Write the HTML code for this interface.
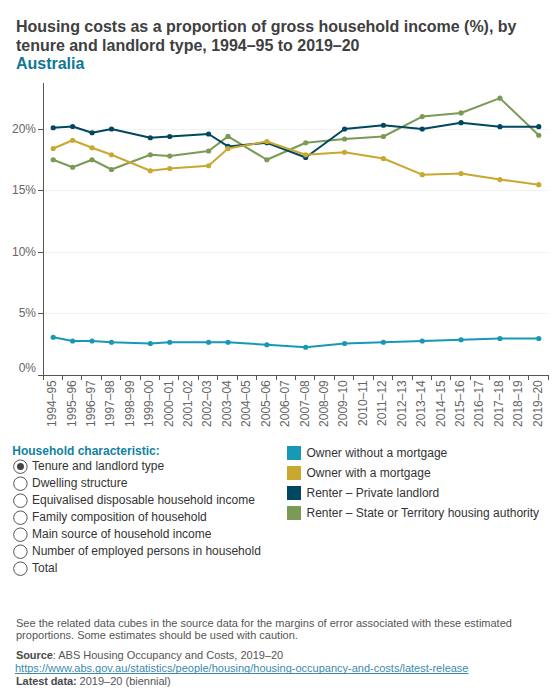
<!DOCTYPE html>
<html><head><meta charset="utf-8">
<style>
html,body{margin:0;padding:0;background:#fff;}
body{width:560px;height:700px;position:relative;overflow:hidden;font-family:"Liberation Sans",sans-serif;}
.t1{position:absolute;left:16px;font-weight:bold;font-size:16px;line-height:18px;color:#404040;white-space:nowrap;letter-spacing:-0.015px;}
.t1.au{color:#0f7896;}
svg{position:absolute;left:0;top:0;}
.yl{font-size:12px;fill:#666;font-family:"Liberation Sans",sans-serif;}
.xl{font-size:12px;fill:#666;font-family:"Liberation Sans",sans-serif;}
.hc{position:absolute;left:12.3px;top:444px;font-weight:bold;font-size:12px;line-height:14px;color:#1281a3;}
.rad{position:absolute;left:13px;height:17px;width:270px;font-size:12px;line-height:17px;color:#333;}
.rad .circ{position:absolute;left:0;top:3px;width:12px;height:12px;border:1px solid #666;border-radius:50%;box-sizing:content-box;}
.rad.on .circ::after{content:"";position:absolute;left:3px;top:3px;width:6px;height:6px;border-radius:50%;background:#444;}
.rad .rt{position:absolute;left:19px;top:0;white-space:nowrap;}
.lg{position:absolute;left:287px;height:14px;width:270px;font-size:12px;color:#333;}
.lg .sq{position:absolute;left:0;top:0;width:14px;height:14px;}
.lg .lt{position:absolute;left:19.5px;top:-1px;line-height:16px;white-space:nowrap;}
.note{position:absolute;left:16px;top:617px;font-size:11px;line-height:12px;color:#555;width:540px;}
.src{position:absolute;left:16px;top:649px;font-size:11px;line-height:13px;color:#555;}
.src b{color:#4a4a4a;letter-spacing:-0.1px;}
.src a{color:#3a8bb0;text-decoration:underline;text-decoration-skip-ink:none;position:relative;left:-1px;}
</style></head><body>
<div class="t1" style="top:18px">Housing costs as a proportion of gross household income (%), by</div><div class="t1" style="top:37px">tenure and landlord type, 1994–95 to 2019–20</div><div class="t1 au" style="top:55px">Australia</div>
<svg width="560" height="700" viewBox="0 0 560 700">
<line x1="44" y1="129.5" x2="548.5" y2="129.5" stroke="#f2f2f2" stroke-width="1"/>
<line x1="44" y1="190.5" x2="548.5" y2="190.5" stroke="#f2f2f2" stroke-width="1"/>
<line x1="44" y1="252.5" x2="548.5" y2="252.5" stroke="#f2f2f2" stroke-width="1"/>
<line x1="44" y1="313.5" x2="548.5" y2="313.5" stroke="#f2f2f2" stroke-width="1"/>
<text x="36" y="132.5" text-anchor="end" class="yl">20%</text>
<line x1="38" y1="129.5" x2="43" y2="129.5" stroke="#555" stroke-width="1"/>
<text x="36" y="193.5" text-anchor="end" class="yl">15%</text>
<line x1="38" y1="190.5" x2="43" y2="190.5" stroke="#555" stroke-width="1"/>
<text x="36" y="255.5" text-anchor="end" class="yl">10%</text>
<line x1="38" y1="252.5" x2="43" y2="252.5" stroke="#555" stroke-width="1"/>
<text x="36" y="316.5" text-anchor="end" class="yl">5%</text>
<line x1="38" y1="313.5" x2="43" y2="313.5" stroke="#555" stroke-width="1"/>
<text x="36" y="372" text-anchor="end" class="yl">0%</text>
<line x1="43.5" y1="83" x2="43.5" y2="375" stroke="#555" stroke-width="1"/>
<line x1="38" y1="375.5" x2="549" y2="375.5" stroke="#555" stroke-width="1"/>
<line x1="43.5" y1="375" x2="43.5" y2="380" stroke="#555" stroke-width="1"/>
<line x1="62.5" y1="375" x2="62.5" y2="380" stroke="#555" stroke-width="1"/>
<line x1="81.5" y1="375" x2="81.5" y2="380" stroke="#555" stroke-width="1"/>
<line x1="101.5" y1="375" x2="101.5" y2="380" stroke="#555" stroke-width="1"/>
<line x1="120.5" y1="375" x2="120.5" y2="380" stroke="#555" stroke-width="1"/>
<line x1="140.5" y1="375" x2="140.5" y2="380" stroke="#555" stroke-width="1"/>
<line x1="159.5" y1="375" x2="159.5" y2="380" stroke="#555" stroke-width="1"/>
<line x1="178.5" y1="375" x2="178.5" y2="380" stroke="#555" stroke-width="1"/>
<line x1="198.5" y1="375" x2="198.5" y2="380" stroke="#555" stroke-width="1"/>
<line x1="217.5" y1="375" x2="217.5" y2="380" stroke="#555" stroke-width="1"/>
<line x1="237.5" y1="375" x2="237.5" y2="380" stroke="#555" stroke-width="1"/>
<line x1="256.5" y1="375" x2="256.5" y2="380" stroke="#555" stroke-width="1"/>
<line x1="276.5" y1="375" x2="276.5" y2="380" stroke="#555" stroke-width="1"/>
<line x1="295.5" y1="375" x2="295.5" y2="380" stroke="#555" stroke-width="1"/>
<line x1="314.5" y1="375" x2="314.5" y2="380" stroke="#555" stroke-width="1"/>
<line x1="334.5" y1="375" x2="334.5" y2="380" stroke="#555" stroke-width="1"/>
<line x1="353.5" y1="375" x2="353.5" y2="380" stroke="#555" stroke-width="1"/>
<line x1="373.5" y1="375" x2="373.5" y2="380" stroke="#555" stroke-width="1"/>
<line x1="392.5" y1="375" x2="392.5" y2="380" stroke="#555" stroke-width="1"/>
<line x1="412.5" y1="375" x2="412.5" y2="380" stroke="#555" stroke-width="1"/>
<line x1="431.5" y1="375" x2="431.5" y2="380" stroke="#555" stroke-width="1"/>
<line x1="450.5" y1="375" x2="450.5" y2="380" stroke="#555" stroke-width="1"/>
<line x1="470.5" y1="375" x2="470.5" y2="380" stroke="#555" stroke-width="1"/>
<line x1="489.5" y1="375" x2="489.5" y2="380" stroke="#555" stroke-width="1"/>
<line x1="509.5" y1="375" x2="509.5" y2="380" stroke="#555" stroke-width="1"/>
<line x1="528.5" y1="375" x2="528.5" y2="380" stroke="#555" stroke-width="1"/>
<line x1="548.5" y1="375" x2="548.5" y2="380" stroke="#555" stroke-width="1"/>
<text transform="translate(56.11,380.2) rotate(-90)" text-anchor="end" class="xl">1994–95</text>
<text transform="translate(75.53,380.2) rotate(-90)" text-anchor="end" class="xl">1995–96</text>
<text transform="translate(94.96,380.2) rotate(-90)" text-anchor="end" class="xl">1996–97</text>
<text transform="translate(114.38,380.2) rotate(-90)" text-anchor="end" class="xl">1997–98</text>
<text transform="translate(133.80,380.2) rotate(-90)" text-anchor="end" class="xl">1998–99</text>
<text transform="translate(153.22,380.2) rotate(-90)" text-anchor="end" class="xl">1999–00</text>
<text transform="translate(172.65,380.2) rotate(-90)" text-anchor="end" class="xl">2000–01</text>
<text transform="translate(192.07,380.2) rotate(-90)" text-anchor="end" class="xl">2001–02</text>
<text transform="translate(211.49,380.2) rotate(-90)" text-anchor="end" class="xl">2002–03</text>
<text transform="translate(230.92,380.2) rotate(-90)" text-anchor="end" class="xl">2003–04</text>
<text transform="translate(250.34,380.2) rotate(-90)" text-anchor="end" class="xl">2004–05</text>
<text transform="translate(269.76,380.2) rotate(-90)" text-anchor="end" class="xl">2005–06</text>
<text transform="translate(289.19,380.2) rotate(-90)" text-anchor="end" class="xl">2006–07</text>
<text transform="translate(308.61,380.2) rotate(-90)" text-anchor="end" class="xl">2007–08</text>
<text transform="translate(328.03,380.2) rotate(-90)" text-anchor="end" class="xl">2008–09</text>
<text transform="translate(347.45,380.2) rotate(-90)" text-anchor="end" class="xl">2009–10</text>
<text transform="translate(366.88,380.2) rotate(-90)" text-anchor="end" class="xl">2010–11</text>
<text transform="translate(386.30,380.2) rotate(-90)" text-anchor="end" class="xl">2011–12</text>
<text transform="translate(405.72,380.2) rotate(-90)" text-anchor="end" class="xl">2012–13</text>
<text transform="translate(425.15,380.2) rotate(-90)" text-anchor="end" class="xl">2013–14</text>
<text transform="translate(444.57,380.2) rotate(-90)" text-anchor="end" class="xl">2014–15</text>
<text transform="translate(463.99,380.2) rotate(-90)" text-anchor="end" class="xl">2015–16</text>
<text transform="translate(483.42,380.2) rotate(-90)" text-anchor="end" class="xl">2016–17</text>
<text transform="translate(502.84,380.2) rotate(-90)" text-anchor="end" class="xl">2017–18</text>
<text transform="translate(522.26,380.2) rotate(-90)" text-anchor="end" class="xl">2018–19</text>
<text transform="translate(541.68,380.2) rotate(-90)" text-anchor="end" class="xl">2019–20</text>
<polyline points="53.21,159.75 72.63,167.25 92.06,159.75 111.48,169.5 150.32,154.75 169.75,156.0 208.59,151.0 228.02,136.4 266.86,159.75 305.71,142.75 344.55,139.0 383.40,136.5 422.25,116.55 461.09,112.95 499.94,98.15 538.78,135.25" fill="none" stroke="#7a9a55" stroke-width="2" stroke-linejoin="round" stroke-linecap="round"/>
<circle cx="53.21" cy="159.75" r="2.6" fill="#7a9a55"/>
<circle cx="72.63" cy="167.25" r="2.6" fill="#7a9a55"/>
<circle cx="92.06" cy="159.75" r="2.6" fill="#7a9a55"/>
<circle cx="111.48" cy="169.5" r="2.6" fill="#7a9a55"/>
<circle cx="150.32" cy="154.75" r="2.6" fill="#7a9a55"/>
<circle cx="169.75" cy="156.0" r="2.6" fill="#7a9a55"/>
<circle cx="208.59" cy="151.0" r="2.6" fill="#7a9a55"/>
<circle cx="228.02" cy="136.4" r="2.6" fill="#7a9a55"/>
<circle cx="266.86" cy="159.75" r="2.6" fill="#7a9a55"/>
<circle cx="305.71" cy="142.75" r="2.6" fill="#7a9a55"/>
<circle cx="344.55" cy="139.0" r="2.6" fill="#7a9a55"/>
<circle cx="383.40" cy="136.5" r="2.6" fill="#7a9a55"/>
<circle cx="422.25" cy="116.55" r="2.6" fill="#7a9a55"/>
<circle cx="461.09" cy="112.95" r="2.6" fill="#7a9a55"/>
<circle cx="499.94" cy="98.15" r="2.6" fill="#7a9a55"/>
<circle cx="538.78" cy="135.25" r="2.6" fill="#7a9a55"/>
<polyline points="53.21,127.75 72.63,126.5 92.06,132.75 111.48,129.0 150.32,137.75 169.75,136.5 208.59,134.0 228.02,146.4 266.86,142.75 305.71,157.5 344.55,129.0 383.40,125.25 422.25,129.0 461.09,122.65 499.94,126.65 538.78,126.65" fill="none" stroke="#004760" stroke-width="2" stroke-linejoin="round" stroke-linecap="round"/>
<circle cx="53.21" cy="127.75" r="2.6" fill="#004760"/>
<circle cx="72.63" cy="126.5" r="2.6" fill="#004760"/>
<circle cx="92.06" cy="132.75" r="2.6" fill="#004760"/>
<circle cx="111.48" cy="129.0" r="2.6" fill="#004760"/>
<circle cx="150.32" cy="137.75" r="2.6" fill="#004760"/>
<circle cx="169.75" cy="136.5" r="2.6" fill="#004760"/>
<circle cx="208.59" cy="134.0" r="2.6" fill="#004760"/>
<circle cx="228.02" cy="146.4" r="2.6" fill="#004760"/>
<circle cx="266.86" cy="142.75" r="2.6" fill="#004760"/>
<circle cx="305.71" cy="157.5" r="2.6" fill="#004760"/>
<circle cx="344.55" cy="129.0" r="2.6" fill="#004760"/>
<circle cx="383.40" cy="125.25" r="2.6" fill="#004760"/>
<circle cx="422.25" cy="129.0" r="2.6" fill="#004760"/>
<circle cx="461.09" cy="122.65" r="2.6" fill="#004760"/>
<circle cx="499.94" cy="126.65" r="2.6" fill="#004760"/>
<circle cx="538.78" cy="126.65" r="2.6" fill="#004760"/>
<polyline points="53.21,148.5 72.63,140.25 92.06,147.75 111.48,154.75 150.32,170.75 169.75,168.5 208.59,165.75 228.02,148.6 266.86,141.5 305.71,154.75 344.55,152.25 383.40,158.5 422.25,174.65 461.09,173.55 499.94,179.55 538.78,184.65" fill="none" stroke="#c8a82f" stroke-width="2" stroke-linejoin="round" stroke-linecap="round"/>
<circle cx="53.21" cy="148.5" r="2.6" fill="#c8a82f"/>
<circle cx="72.63" cy="140.25" r="2.6" fill="#c8a82f"/>
<circle cx="92.06" cy="147.75" r="2.6" fill="#c8a82f"/>
<circle cx="111.48" cy="154.75" r="2.6" fill="#c8a82f"/>
<circle cx="150.32" cy="170.75" r="2.6" fill="#c8a82f"/>
<circle cx="169.75" cy="168.5" r="2.6" fill="#c8a82f"/>
<circle cx="208.59" cy="165.75" r="2.6" fill="#c8a82f"/>
<circle cx="228.02" cy="148.6" r="2.6" fill="#c8a82f"/>
<circle cx="266.86" cy="141.5" r="2.6" fill="#c8a82f"/>
<circle cx="305.71" cy="154.75" r="2.6" fill="#c8a82f"/>
<circle cx="344.55" cy="152.25" r="2.6" fill="#c8a82f"/>
<circle cx="383.40" cy="158.5" r="2.6" fill="#c8a82f"/>
<circle cx="422.25" cy="174.65" r="2.6" fill="#c8a82f"/>
<circle cx="461.09" cy="173.55" r="2.6" fill="#c8a82f"/>
<circle cx="499.94" cy="179.55" r="2.6" fill="#c8a82f"/>
<circle cx="538.78" cy="184.65" r="2.6" fill="#c8a82f"/>
<polyline points="53.21,337.25 72.63,341.0 92.06,341.0 111.48,342.25 150.32,343.5 169.75,342.25 208.59,342.25 228.02,342.25 266.86,344.75 305.71,347.25 344.55,343.5 383.40,342.25 422.25,341.0 461.09,339.75 499.94,338.5 538.78,338.5" fill="none" stroke="#1799b5" stroke-width="2" stroke-linejoin="round" stroke-linecap="round"/>
<circle cx="53.21" cy="337.25" r="2.6" fill="#1799b5"/>
<circle cx="72.63" cy="341.0" r="2.6" fill="#1799b5"/>
<circle cx="92.06" cy="341.0" r="2.6" fill="#1799b5"/>
<circle cx="111.48" cy="342.25" r="2.6" fill="#1799b5"/>
<circle cx="150.32" cy="343.5" r="2.6" fill="#1799b5"/>
<circle cx="169.75" cy="342.25" r="2.6" fill="#1799b5"/>
<circle cx="208.59" cy="342.25" r="2.6" fill="#1799b5"/>
<circle cx="228.02" cy="342.25" r="2.6" fill="#1799b5"/>
<circle cx="266.86" cy="344.75" r="2.6" fill="#1799b5"/>
<circle cx="305.71" cy="347.25" r="2.6" fill="#1799b5"/>
<circle cx="344.55" cy="343.5" r="2.6" fill="#1799b5"/>
<circle cx="383.40" cy="342.25" r="2.6" fill="#1799b5"/>
<circle cx="422.25" cy="341.0" r="2.6" fill="#1799b5"/>
<circle cx="461.09" cy="339.75" r="2.6" fill="#1799b5"/>
<circle cx="499.94" cy="338.5" r="2.6" fill="#1799b5"/>
<circle cx="538.78" cy="338.5" r="2.6" fill="#1799b5"/>
<circle cx="20.4" cy="466.70" r="6.75" fill="none" stroke="#555" stroke-width="1"/>
<circle cx="20.45" cy="466.50" r="3.5" fill="#444"/>
<circle cx="20.4" cy="483.70" r="6.75" fill="none" stroke="#555" stroke-width="1"/>
<circle cx="20.4" cy="500.70" r="6.75" fill="none" stroke="#555" stroke-width="1"/>
<circle cx="20.4" cy="517.70" r="6.75" fill="none" stroke="#555" stroke-width="1"/>
<circle cx="20.4" cy="534.70" r="6.75" fill="none" stroke="#555" stroke-width="1"/>
<circle cx="20.4" cy="551.70" r="6.75" fill="none" stroke="#555" stroke-width="1"/>
<circle cx="20.4" cy="568.70" r="6.75" fill="none" stroke="#555" stroke-width="1"/>
</svg>
<div class="hc">Household characteristic:</div>
<div class="rad" style="top:457.5px"><span class="rt">Tenure and landlord type</span></div><div class="rad" style="top:474.5px"><span class="rt">Dwelling structure</span></div><div class="rad" style="top:491.5px"><span class="rt">Equivalised disposable household income</span></div><div class="rad" style="top:508.5px"><span class="rt">Family composition of household</span></div><div class="rad" style="top:525.5px"><span class="rt">Main source of household income</span></div><div class="rad" style="top:542.5px"><span class="rt">Number of employed persons in household</span></div><div class="rad" style="top:559.5px"><span class="rt">Total</span></div>
<div class="lg" style="top:446px"><span class="sq" style="background:#1799b5"></span><span class="lt">Owner without a mortgage</span></div><div class="lg" style="top:466px"><span class="sq" style="background:#c8a82f"></span><span class="lt">Owner with a mortgage</span></div><div class="lg" style="top:486px"><span class="sq" style="background:#004760"></span><span class="lt">Renter – Private landlord</span></div><div class="lg" style="top:506px"><span class="sq" style="background:#7a9a55"></span><span class="lt">Renter – State or Territory housing authority</span></div>
<div class="note">See the related data cubes in the source data for the margins of error associated with these estimated<br>proportions. Some estimates should be used with caution.</div>
<div class="src"><b>Source</b>: ABS Housing Occupancy and Costs, 2019–20<br><a>https://www.abs.gov.au/statistics/people/housing/housing-occupancy-and-costs/latest-release</a><br><b>Latest data:</b> 2019–20 (biennial)</div>
</body></html>
